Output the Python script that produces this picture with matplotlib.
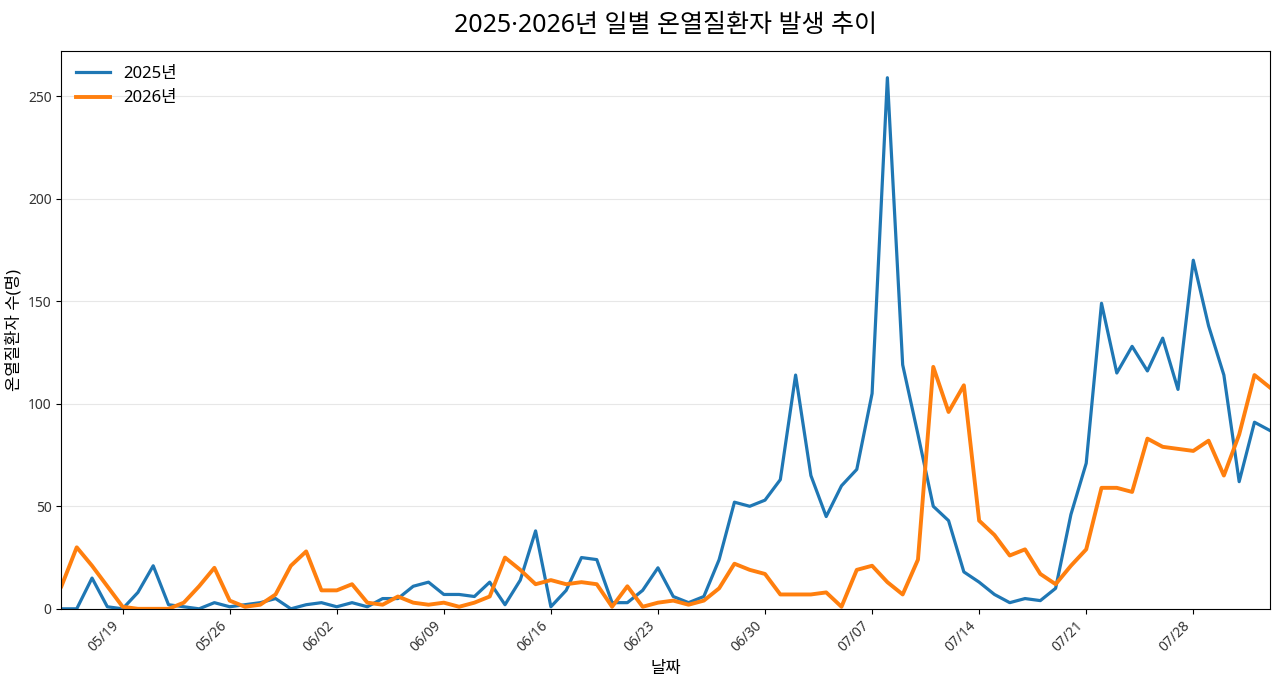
import matplotlib
matplotlib.use("Agg")
import matplotlib.pyplot as plt
import matplotlib.dates as mdates
import pandas as pd

plt.rcParams['font.family'] = ['Noto Sans', 'Noto Sans CJK KR', 'DejaVu Sans']

dates = pd.date_range("2025-05-15", "2025-08-02", freq="D")

cases_2025 = [0, 0, 15, 1, 0, 8, 21, 2, 1, 0,
              3, 1, 2, 3, 5, 0, 2, 3, 1, 3,
              1, 5, 5, 11, 13, 7, 7, 6, 13, 2,
              14, 38, 1, 9, 25, 24, 3, 3, 9, 20,
              6, 3, 6, 24, 52, 50, 53, 63, 114, 65,
              45, 60, 68, 105, 259, 119, 85, 50, 43, 18,
              13, 7, 3, 5, 4, 10, 46, 71, 149, 115,
              128, 116, 132, 107, 170, 138, 114, 62, 91, 87]

cases_2026 = [11, 30, 21, 11, 1, 0, 0, 0, 3, 11,
              20, 4, 1, 2, 7, 21, 28, 9, 9, 12,
              3, 2, 6, 3, 2, 3, 1, 3, 6, 25,
              19, 12, 14, 12, 13, 12, 1, 11, 1, 3,
              4, 2, 4, 10, 22, 19, 17, 7, 7, 7,
              8, 1, 19, 21, 13, 7, 24, 118, 96, 109,
              43, 36, 26, 29, 17, 12, 21, 29, 59, 59,
              57, 83, 79, 78, 77, 82, 65, 85, 114, 108]

fig = plt.figure(figsize=(12.8, 6.81), dpi=100)
ax = fig.add_axes([0.048, 0.106, 0.944, 0.819])

ax.plot(dates, cases_2025, color="#1f77b4", linewidth=2.3, label="2025년")
ax.plot(dates, cases_2026, color="#ff7f0e", linewidth=2.8, label="2026년")

ax.set_xlim(dates[0], dates[-1])
ax.set_ylim(0, 272)
ax.set_yticks([0, 50, 100, 150, 200, 250])
ax.xaxis.set_major_locator(mdates.WeekdayLocator(byweekday=mdates.MO))
ax.xaxis.set_major_formatter(mdates.DateFormatter("%m/%d"))
plt.setp(ax.get_xticklabels(), rotation=45, ha="right")
ax.tick_params(labelsize=10, labelcolor="#333333")

ax.grid(axis="y", alpha=0.3)
ax.set_axisbelow(True)

ax.set_title("2025·2026년 일별 온열질환자 발생 추이", fontsize=18, pad=14)
ax.set_xlabel("날짜", fontsize=12)
ax.set_ylabel("온열질환자 수(명)", fontsize=12)
ax.legend(loc="upper left", frameon=False, fontsize=12)

fig.savefig("out.png", dpi=100)
